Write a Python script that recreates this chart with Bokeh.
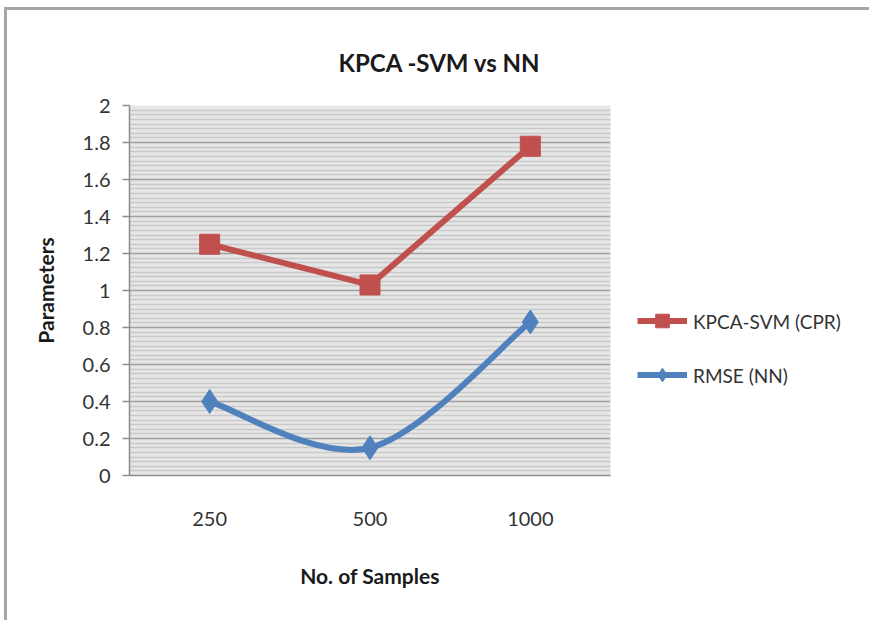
from bokeh.plotting import figure
from bokeh.models import Range1d, FixedTicker, CustomJSTickFormatter, Legend, LegendItem, ColumnDataSource
from bokeh.embed import file_html
from bokeh.resources import INLINE

# ---- data ----
samples = ["250", "500", "1000"]
kpca_svm = [1.25, 1.03, 1.78]
rmse_nn = [0.40, 0.15, 0.83]
y_ticks = [0, 0.2, 0.4, 0.6, 0.8, 1.0, 1.2, 1.4, 1.6, 1.8, 2.0]
series_names = ["KPCA-SVM (CPR)", "RMSE (NN)"]

RED = "#c0504d"
BLUE = "#4f81bd"
FONT = "Lato"

xs = [i + 0.5 for i in range(len(samples))]

# smoothed (Excel-like) bezier segments for RMSE series
def bezier_segments(x, y):
    n = len(x)
    seg = dict(x0=[], y0=[], x1=[], y1=[], cx0=[], cy0=[], cx1=[], cy1=[])
    for i in range(n - 1):
        ip = max(i - 1, 0)
        inn = min(i + 2, n - 1)
        seg["x0"].append(x[i]); seg["y0"].append(y[i])
        seg["x1"].append(x[i + 1]); seg["y1"].append(y[i + 1])
        seg["cx0"].append(x[i] + (x[i + 1] - x[ip]) / 6)
        seg["cy0"].append(y[i] + (y[i + 1] - y[ip]) / 6)
        seg["cx1"].append(x[i + 1] - (x[inn] - x[i]) / 6)
        seg["cy1"].append(y[i + 1] - (y[inn] - y[i]) / 6)
    return seg

p = figure(frame_width=481, frame_height=370, output_backend="svg", toolbar_location=None,
           x_range=Range1d(0, len(samples)), y_range=Range1d(0, 2),
           min_border_left=122, min_border_right=259, min_border_top=95,
           min_border_bottom=145)
p.styles = {"margin-left": "4px", "margin-top": "7px",
            "border-top": "3px solid #a6a6a6", "border-left": "3px solid #a6a6a6"}

p.title.text = "KPCA -SVM vs NN"
p.title.align = "left"
p.title.offset = 209
p.title.text_font = FONT
p.title.text_font_size = "24px"
p.title.text_font_style = "bold"
p.title.text_color = "#1a1a1a"
p.title.standoff = 57

p.background_fill_color = "#e6e6e6"
p.border_fill_color = "white"
p.outline_line_color = None

# grid
minor = [round(0.025 * k, 3) for k in range(81) if k % 8 != 0]
p.ygrid.ticker = FixedTicker(ticks=y_ticks, minor_ticks=minor)
p.ygrid.grid_line_color = "#a0a0a0"
p.ygrid.grid_line_width = 1.5
p.ygrid.minor_grid_line_color = "#c9c9c9"
p.ygrid.minor_grid_line_width = 1.5
p.xgrid.grid_line_color = None

# axes
p.yaxis.ticker = FixedTicker(ticks=y_ticks)
p.yaxis.formatter = CustomJSTickFormatter(code="return tick.toFixed(1).replace(/\\.0$/, '');")
p.yaxis.major_tick_out = 7
p.yaxis.major_tick_in = 0
p.yaxis.minor_tick_out = 0
p.yaxis.axis_line_color = "#8c8c8c"
p.yaxis.axis_line_width = 1.5
p.yaxis.major_tick_line_color = "#8c8c8c"
p.yaxis.major_tick_line_width = 1.5
p.yaxis.major_label_standoff = 12
p.yaxis.axis_label = "Parameters"
p.yaxis.axis_label_standoff = 22

p.xaxis.ticker = FixedTicker(ticks=xs)
p.xaxis.major_label_overrides = {x: s for x, s in zip(xs, samples)}
p.xaxis.major_tick_out = 0
p.xaxis.major_tick_in = 0
p.xaxis.minor_tick_out = 0
p.xaxis.minor_tick_in = 0
p.xaxis.axis_line_color = "#8c8c8c"
p.xaxis.axis_line_width = 1.5
p.xaxis.major_label_standoff = 36
p.xaxis.axis_label = "No. of Samples"
p.xaxis.axis_label_standoff = 34

for ax in (p.xaxis, p.yaxis):
    ax.major_label_text_font = FONT
    ax.major_label_text_font_size = "20px"
    ax.major_label_text_color = "#333333"
    ax.axis_label_text_font = FONT
    ax.axis_label_text_font_size = "21px"
    ax.axis_label_text_font_style = "bold"
    ax.axis_label_text_color = "#1a1a1a"

# series
src_k = ColumnDataSource(dict(x=xs, y=kpca_svm))
src_r = ColumnDataSource(dict(x=xs, y=rmse_nn))
l1 = p.line("x", "y", source=src_k, line_color=RED, line_width=6)
m1 = p.scatter("x", "y", source=src_k, marker="square", size=20,
               fill_color=RED, line_color=RED)
seg = bezier_segments(xs, rmse_nn)
l2 = p.bezier(source=ColumnDataSource(seg), x0="x0", y0="y0", x1="x1", y1="y1",
              cx0="cx0", cy0="cy0", cx1="cx1", cy1="cy1",
              line_color=BLUE, line_width=6)
m2 = p.scatter("x", "y", source=src_r, marker="diamond", size=24,
               fill_color=BLUE, line_color=BLUE)

legend = Legend(items=[LegendItem(label=series_names[0], renderers=[l1, m1]),
                       LegendItem(label=series_names[1], renderers=[l2, m2])],
                location="center_left", orientation="vertical",
                title=" ", title_text_font_size="18px", title_standoff=94,
                glyph_width=50, glyph_height=34, spacing=20,
                label_text_font=FONT, label_text_font_size="19px",
                label_text_color="#333333", label_standoff=6,
                background_fill_alpha=0, border_line_color=None,
                padding=0, margin=27)
p.add_layout(legend, "right")

open("out.html", "w").write(file_html(p, INLINE))
